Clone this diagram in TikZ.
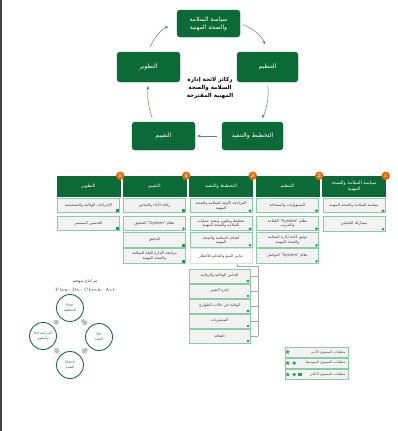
\documentclass[tikz,border=0pt]{standalone}
\usepackage{fontspec}
\usetikzlibrary{calc,shapes.geometric,arrows.meta}
\TeXXeTstate=1
\newfontfamily\arf[Script=Arabic]{DejaVu Sans}
\newcommand\AR[1]{\beginR #1\endR}
\newcommand\LT[1]{\beginL #1\endL{}}
\definecolor{dg}{HTML}{0B6A36}
\definecolor{lg}{HTML}{8ACCA3}
\definecolor{bx}{HTML}{F2F2F2}
\definecolor{mk}{HTML}{1FA050}
\definecolor{orng}{HTML}{E26B0A}
\definecolor{cycc}{HTML}{4F8F65}
\definecolor{pd}{HTML}{1F6F45}
\definecolor{txt}{HTML}{404040}
\newcommand\mkS[1]{\node[mkstar] at ($(#1.south east)+(-2.3,-2.3)$) {};}
\newcommand\mkC[1]{\node[mkcirc] at ($(#1.south east)+(-2.3,-2.3)$) {};}
\newcommand\mkQ[1]{\node[mksq] at ($(#1.south east)+(-2.3,-2.3)$) {};}
\begin{document}
\begin{tikzpicture}[x=1pt,y=-1pt,
  cbox/.style={fill=dg, draw=dg, rounded corners=3pt, text=white, align=center, inner sep=0pt, font=\arf\fontsize{6}{8}\selectfont},
  cyc/.style={draw=cycc, line width=0.5pt, -{Stealth[length=3.5pt,width=3pt]}},
  hdr/.style={fill=dg, draw=dg, minimum width=63pt, minimum height=20pt, text width=60pt, align=center, inner sep=0pt, text=white, font=\arf\fontsize{4.6}{6}\selectfont},
  badge/.style={circle, fill=orng, text=white, inner sep=0pt, minimum size=8.5pt, font=\bfseries\fontsize{5}{5}\selectfont},
  item/.style={draw=lg, fill=bx, line width=0.6pt, minimum width=62pt, minimum height=14.5pt, text width=60pt, inner sep=0pt, text=txt, align=center, font=\arf\fontsize{3.8}{4.8}\selectfont},
  witem/.style={item, fill=white, draw=gray!25},
  sitem/.style={item, minimum width=61pt, minimum height=14pt},
  litem/.style={item, minimum width=63pt, minimum height=10pt, text width=58pt, align=right, font=\arf\fontsize{3.4}{4}\selectfont},
  mkstar/.style={star, star points=5, star point ratio=2.4, fill=mk, inner sep=0pt, minimum size=3.8pt},
  mkcirc/.style={circle, fill=mk, inner sep=0pt, minimum size=2.8pt},
  mksq/.style={rectangle, fill=mk, inner sep=0pt, minimum size=2.8pt},
  conn/.style={draw=gray!70, line width=0.5pt},
  pdc/.style={circle, draw=pd, line width=0.9pt, fill=white, minimum size=27pt, inner sep=0pt, align=center, text=pd, font=\arf\fontsize{3.3}{4.6}\selectfont},
  parr/.style={draw=gray!50, line width=3.6pt, -{Triangle[length=3.4pt,width=7pt]}, shorten <=3pt, shorten >=3pt}
]
\useasboundingbox (0,0) rectangle (398,431);
\fill[white] (0,0) rectangle (398,431);
\fill[black!75] (0,0) rectangle (1.6,431);

% ---- cycle ----
\node[cbox, minimum width=63pt, minimum height=27pt] (t) at (208.5,23.5) {\AR{سياسة السلامة}\\\AR{والصحة المهنية}};
\node[cbox, minimum width=61pt, minimum height=30pt] (r) at (267.5,67) {\AR{التنظيم}};
\node[cbox, minimum width=61pt, minimum height=28pt] (br) at (252.5,136) {\AR{التخطيط والتنفيذ}};
\node[cbox, minimum width=63pt, minimum height=28pt] (bl) at (163.5,136) {\AR{التقييم}};
\node[cbox, minimum width=63pt, minimum height=30pt] (l) at (148.5,67) {\AR{التطوير}};
\node[align=center, inner sep=0pt, font=\arf\bfseries\fontsize{5.6}{8}\selectfont] (ctr) at (210,88) {\AR{ركائز لائحة إدارة}\\\AR{السلامة والصحة}\\\AR{المهنية المقترحة}};
\draw[cyc, shorten <=3pt, shorten >=8pt] (t.east) to[bend left=25] (r.north);
\draw[cyc, shorten <=4pt, shorten >=4pt] (r.south) to[bend left=15] ($(br.north)+(8,0)$);
\draw[cyc, shorten <=5pt, shorten >=2pt] (br.west) -- (bl.east);
\draw[cyc, shorten <=4pt, shorten >=4pt] ($(bl.north)+(-10,0)$) to[bend left=12] (l.south);
\draw[cyc, shorten <=5pt, shorten >=9pt] (l.north) to[bend left=25] (t.west);

% ---- table headers ----
\node[hdr] (h1) at (354,186) {\AR{سياسة السلامة والصحة}\\\AR{المهنية}};
\node[hdr] (h2) at (287.5,186) {\AR{التنظيم}};
\node[hdr] (h3) at (221,186) {\AR{التخطيط والتنفيذ}};
\node[hdr] (h4) at (154.5,186) {\AR{التقييم}};
\node[hdr] (h5) at (88.5,186) {\AR{التطوير}};
\node[badge] (b1) at (h1.north east) {1};
\node[badge] (b2) at (h2.north east) {2};
\node[badge] (b3) at (h3.north east) {3};
\node[badge] (b4) at (h4.north east) {4};
\node[badge] (b5) at (h5.north east) {5};

% column 1
\node[item] (c1a) at (354,205.5) {\AR{سياسة السلامة والصحة المهنية}};
\node[item] (c1b) at (354,224) {\AR{مشاركة العاملين}};
% column 2
\node[item] (c2a) at (287.5,205.5) {\AR{المسؤوليات والمساءلة}};
\node[item] (c2b) at (287.5,223.5) {\AR{نظام \LT{"System"} الكفاءة}\\\AR{والتدريب}};
\node[item] (c2c) at (287.5,240) {\AR{توثيق لائحة إدارة السلامة}\\\AR{والصحة المهنية}};
\node[item] (c2d) at (287.5,256) {\AR{نظام \LT{"System"} التواصل}};
% column 3
\node[item] (c3a) at (221,205.5) {\AR{المراجعة الأولية للسلامة والصحة}\\\AR{المهنية}};
\node[item] (c3b) at (221,223.5) {\AR{تخطيط وتطوير وتنفيذ عمليات}\\\AR{السلامة والصحة المهنية}};
\node[item] (c3c) at (221,240) {\AR{أهداف السلامة والصحة}\\\AR{المهنية}};
\node[witem] (c3d) at (221,256) {\AR{تدابير المنع والتحكم للأخطار}};
% sub items
\node[sitem] (s1) at (219.5,276) {\AR{التدابير الوقائية والرقابية}};
\node[sitem] (s2) at (219.5,291) {\AR{إدارة التغيير}};
\node[sitem] (s3) at (219.5,306) {\AR{الوقاية في حالات الطوارئ}};
\node[sitem] (s4) at (219.5,321) {\AR{المشتريات}};
\node[sitem] (s5) at (219.5,336) {\AR{التعاقد}};
% column 4
\node[item] (c4a) at (154.5,205.5) {\AR{رقابة الأداء والقياس}};
\node[item] (c4b) at (154.5,223.5) {\AR{نظام \LT{"System"} التحقيق}};
\node[item] (c4c) at (154.5,240) {\AR{التدقيق}};
\node[item] (c4d) at (154.5,256) {\AR{مراجعة الإدارة العليا للسلامة}\\\AR{والصحة المهنية}};
% column 5
\node[item] (c5a) at (88.5,205.5) {\AR{الإجراءات الوقائية والتصحيحية}};
\node[item] (c5b) at (88.5,223.5) {\AR{التحسين المستمر}};

% markers
\mkS{c1a}\mkC{c1b}
\mkS{c2a}\mkS{c2b}\mkC{c2c}\mkC{c2d}
\mkS{c3a}\mkS{c3b}\mkC{c3c}
\mkS{s1}\mkQ{s2}\mkS{s3}\mkQ{s4}\mkQ{s5}
\mkQ{c4a}\mkC{c4b}\mkQ{c4c}\mkQ{c4d}
\mkQ{c5a}\mkQ{c5b}

% connector
\coordinate (bus) at (258,266);
\draw[conn] ($(c3d.south east)+(-15,0)$) |- (bus) -- (bus |- s5.east);
\foreach \s in {s1,s2,s3,s4,s5} \draw[conn] (\s.east) -- (\s.east -| bus);

% legend
\node[litem] (lg1) at (316.5,352) {\AR{متطلبات المستوى الأدنى}};
\node[litem] (lg2) at (316.5,363) {\AR{متطلبات المستوى المتوسط}};
\node[litem] (lg3) at (316.5,374.5) {\AR{متطلبات المستوى الأعلى}};
\node[mkstar, minimum size=4.6pt] at ($(lg1.west)+(3,0)$) {};
\node[mkstar, minimum size=4.6pt] at ($(lg2.west)+(3,0)$) {};
\node[mkcirc, minimum size=3.6pt] at ($(lg2.west)+(9.5,0)$) {};
\node[mkstar, minimum size=4.6pt] at ($(lg3.west)+(3,0)$) {};
\node[mkcirc, minimum size=3.6pt] at ($(lg3.west)+(9.5,0)$) {};
\node[mksq, minimum size=3.6pt] at ($(lg3.west)+(15.5,0)$) {};

% PDCA
\node[inner sep=0pt, text=txt, font=\arf\fontsize{4}{5}\selectfont] (pt1) at (85,281) {\AR{تم اتباع منهجية}};
\node[inner sep=0pt, text=txt, font=\fontsize{4.6}{5}\selectfont] (pt2) at (85,289.5) {Plan- Do- Check- Act};
\node[pdc] (plan) at (70,308) {Plan\\\AR{التخطيط}};
\node[pdc] (do) at (99,337) {Do\\\AR{التنفيذ}};
\node[pdc] (check) at (70,365) {Check\\\AR{التقييم}};
\node[pdc] (act) at (43,336) {\AR{المراجعة \LT{Act}}\\\AR{والتطوير}};
\draw[parr] (plan) -- (do);
\draw[parr] (do) -- (check);
\draw[parr] (check) -- (act);
\draw[parr] (act) -- (plan);
\end{tikzpicture}
\end{document}
